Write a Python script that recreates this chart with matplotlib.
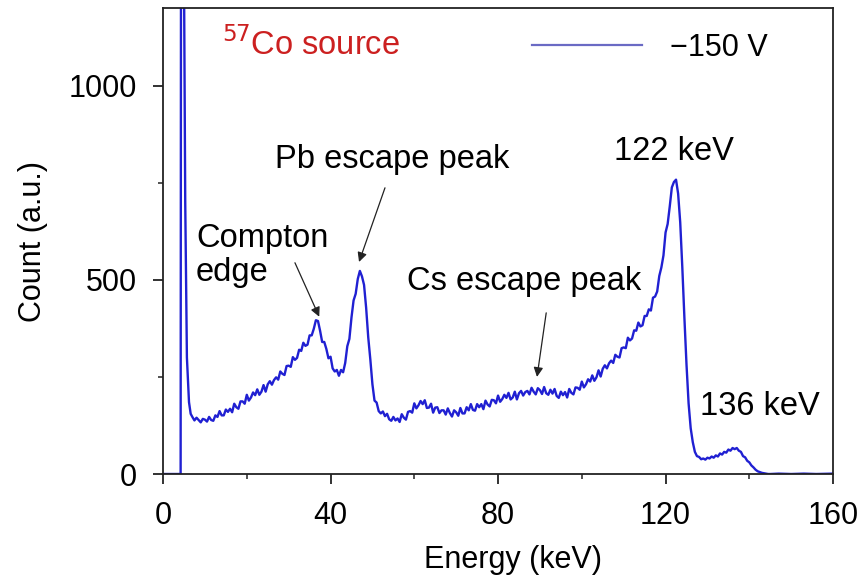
import numpy as np
import matplotlib
matplotlib.use("Agg")
import matplotlib.pyplot as plt
from matplotlib.lines import Line2D
from matplotlib.ticker import MultipleLocator

plt.rcParams['font.family'] = ['Liberation Sans', 'DejaVu Sans']

# ---- spectrum data -------------------------------------------------------
# low-energy part: noise threshold and the detector-noise spike
head_energy = [0.0, 4.2, 4.3, 4.9, 5.3, 5.7, 6.2, 6.6]
head_count = [0, 0, 1500, 1500, 700, 300, 185, 155]

# main spectrum, channels of 0.5 keV starting at 7.0 keV
channel_start_kev = 7.0
channel_width_kev = 0.5
main_count = [
    147, 138, 145, 139, 133, 142, 140, 135, 147, 139,   # 7.0 - 11.5
    137, 151, 147, 162, 151, 151, 166, 160, 168, 159,   # 12.0 - 16.5
    181, 172, 168, 187, 187, 181, 204, 189, 197, 210,   # 17.0 - 21.5
    203, 218, 204, 212, 229, 212, 231, 239, 230, 242,   # 22.0 - 26.5
    249, 243, 264, 258, 255, 278, 279, 276, 301, 294,   # 27.0 - 31.5
    299, 320, 317, 338, 330, 333, 357, 357, 374, 396,   # 32.0 - 36.5
    394, 369, 340, 340, 322, 298, 302, 272, 264, 268,   # 37.0 - 41.5
    253, 268, 262, 286, 329, 348, 403, 447, 464, 502,   # 42.0 - 46.5
    523, 509, 487, 428, 352, 295, 231, 189, 184, 162,   # 47.0 - 51.5
    156, 161, 149, 155, 141, 137, 147, 138, 143, 134,   # 52.0 - 56.5
    154, 145, 140, 160, 162, 158, 182, 169, 177, 188,   # 57.0 - 61.5
    180, 190, 170, 171, 181, 158, 171, 172, 157, 164,   # 62.0 - 66.5
    164, 153, 169, 157, 148, 164, 159, 150, 170, 156,   # 67.0 - 71.5
    156, 172, 164, 180, 165, 163, 180, 172, 180, 167,   # 72.0 - 76.5
    189, 179, 174, 191, 190, 182, 202, 186, 193, 204,   # 77.0 - 81.5
    196, 209, 192, 197, 212, 192, 208, 214, 202, 211,   # 82.0 - 86.5
    214, 205, 222, 212, 205, 221, 216, 206, 224, 208,   # 87.0 - 91.5
    204, 217, 207, 219, 201, 196, 212, 203, 211, 197,   # 92.0 - 96.5
    219, 209, 205, 223, 222, 217, 238, 223, 231, 244,   # 97.0 - 101.5
    238, 254, 240, 249, 267, 251, 271, 280, 272, 285,   # 102.0 - 106.5
    292, 286, 307, 302, 300, 324, 326, 324, 351, 344,   # 107.0 - 111.5
    349, 370, 369, 390, 380, 383, 407, 407, 424, 421,   # 112.0 - 116.5
    454, 457, 470, 510, 532, 563, 622, 644, 689, 738,   # 117.0 - 121.5
    752, 758, 722, 648, 532, 402, 282, 182, 118, 82,    # 122.0 - 126.5
    57, 46, 44, 38, 40, 37, 42, 40, 45, 42,             # 127.0 - 131.5
    48, 45, 53, 50, 57, 55, 63, 60, 67, 64,             # 132.0 - 136.5
    67, 60, 57, 46, 43, 34, 30, 22, 17, 11,             # 137.0 - 141.5
    7, 5, 3, 2, 1, 0, 0,                                # 142.0 - 145.0
]

# flat tail above the 136 keV line
tail_energy = [147.0, 150.0, 153.0, 156.0, 160.0]
tail_count = [1, 0, 1, 0, 1]

main_energy = channel_start_kev + channel_width_kev * np.arange(len(main_count))
energy = np.concatenate([head_energy, main_energy, tail_energy])
count = np.concatenate([head_count, main_count, tail_count])

series_label = "\u2212150 V"
x_ticks = [0, 40, 80, 120, 160]
y_ticks = [0, 500, 1000]

# ---- figure --------------------------------------------------------------
fig = plt.figure(figsize=(8.64, 5.77), dpi=100)
ax = fig.add_axes([0.1887, 0.1785, 0.7755, 0.8076])

line_color = '#2020d2'
ax.plot(energy, count, color=line_color, lw=1.7)

ax.set_xlim(0, 160)
ax.set_ylim(0, 1200)
ax.set_xticks(x_ticks)
ax.set_yticks(y_ticks)
ax.xaxis.set_minor_locator(MultipleLocator(20))
ax.yaxis.set_minor_locator(MultipleLocator(250))

fs = 22      # tick labels and axis titles
fs_ann = 23.5  # in-plot labels
ax.tick_params(which='major', direction='out', length=7.5, width=1.3,
               labelsize=fs, color='#222222')
ax.tick_params(which='minor', direction='out', length=3.8, width=1.1,
               color='#222222')
ax.tick_params(axis='y', which='major', pad=11)
ax.tick_params(axis='x', which='major', pad=12)
for sp in ax.spines.values():
    sp.set_linewidth(1.3)
    sp.set_color('#222222')

ax.set_xlabel("Energy (keV)", fontsize=fs)
ax.set_ylabel("Count (a.u.)", fontsize=fs)
ax.xaxis.set_label_coords(0.522, -0.152)
ax.yaxis.set_label_coords(-0.172, 0.5)

# source label
ax.text(14.1, 1106, r"$^{57}$Co source", color='#cc2020', fontsize=fs_ann,
        va='center', ha='left')

# legend
handle = Line2D([], [], color='#6a6ac4', lw=1.6)
ax.legend([handle], [series_label], loc='center left',
          bbox_to_anchor=(0.551, 0.914), frameon=False, fontsize=fs,
          handlelength=3.6, handletextpad=0.9, borderpad=0,
          borderaxespad=0)

# peak annotations
ax.text(7.9, 562, "Compton\nedge", fontsize=fs_ann, va='center', ha='left',
        linespacing=1.12)
ax.text(26.7, 809, "Pb escape peak", fontsize=fs_ann, va='center', ha='left')
ax.text(58.3, 495, "Cs escape peak", fontsize=fs_ann, va='center', ha='left')
ax.text(107.7, 830, "122 keV", fontsize=fs_ann, va='center', ha='left')
ax.text(128.2, 173, "136 keV", fontsize=fs_ann, va='center', ha='left')

arrow_kw = dict(arrowstyle='-|>', color='#222222', lw=0.9,
                mutation_scale=14, shrinkA=0, shrinkB=0)
ax.annotate("", xy=(37.3, 405), xytext=(31.5, 544), arrowprops=arrow_kw)
ax.annotate("", xy=(46.8, 546), xytext=(53.0, 737), arrowprops=arrow_kw)
ax.annotate("", xy=(89.3, 250), xytext=(91.5, 415), arrowprops=arrow_kw)

fig.savefig("out.png", dpi=100)
